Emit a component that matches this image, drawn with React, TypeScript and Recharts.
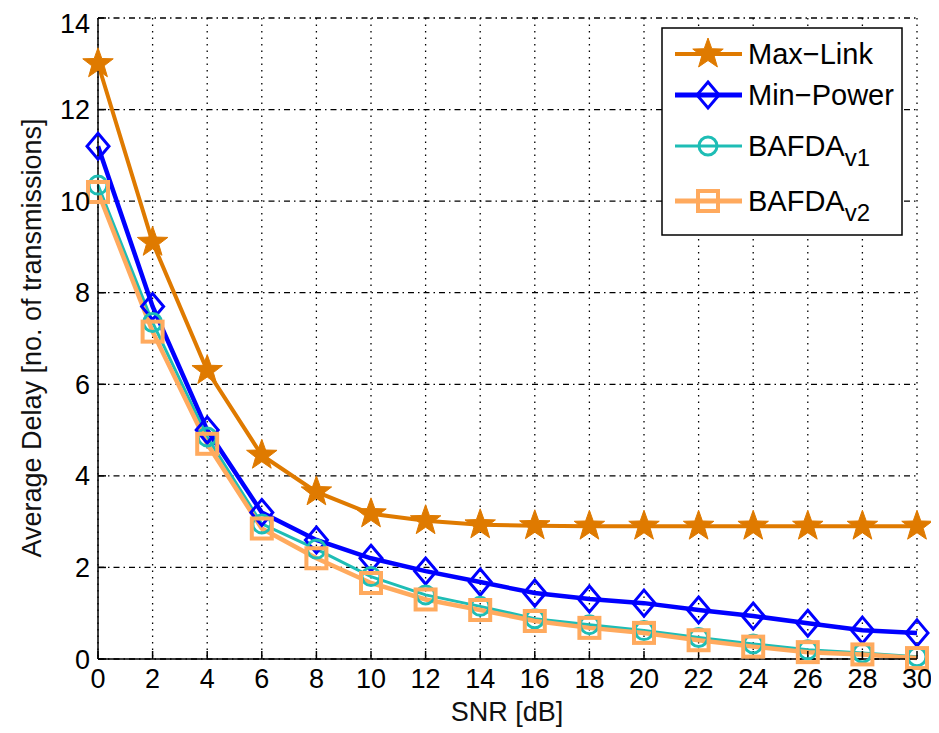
import { LineChart, Line, XAxis, YAxis, CartesianGrid } from 'recharts'

const snr = [0, 2, 4, 6, 8, 10, 12, 14, 16, 18, 20, 22, 24, 26, 28, 30]
const maxLink = [13.0, 9.1, 6.3, 4.45, 3.65, 3.17, 3.02, 2.93, 2.91, 2.9, 2.9, 2.9, 2.9, 2.9, 2.9, 2.9]
const minPower = [11.2, 7.7, 5.0, 3.2, 2.6, 2.2, 1.92, 1.68, 1.44, 1.31, 1.22, 1.07, 0.94, 0.78, 0.63, 0.57]
const bafdaV1 = [10.35, 7.35, 4.85, 2.95, 2.4, 1.8, 1.4, 1.15, 0.88, 0.75, 0.62, 0.47, 0.33, 0.2, 0.13, 0.05]
const bafdaV2 = [10.2, 7.15, 4.7, 2.85, 2.2, 1.66, 1.3, 1.07, 0.83, 0.68, 0.57, 0.41, 0.27, 0.15, 0.1, 0.02]
const xTicks = [0, 2, 4, 6, 8, 10, 12, 14, 16, 18, 20, 22, 24, 26, 28, 30]
const yTicks = [0, 2, 4, 6, 8, 10, 12, 14]

const data = snr.map((x, i) => ({
  snr: x,
  maxLink: maxLink[i],
  minPower: minPower[i],
  v1: bafdaV1[i],
  v2: bafdaV2[i],
}))

const C_MAX = '#DF7A00'
const C_MIN = '#0000FF'
const C_V1 = '#1EBDB5'
const C_V2 = '#FFAA5E'
const FONT = '"Liberation Sans", Arial, sans-serif'

const starPath = (cx: number, cy: number, ro: number, ri: number) => {
  let d = ''
  for (let k = 0; k < 10; k++) {
    const r = k % 2 === 0 ? ro : ri
    const a = -Math.PI / 2 + (k * Math.PI) / 5
    d += (k === 0 ? 'M' : 'L') + (cx + r * Math.cos(a)).toFixed(2) + ',' + (cy + r * Math.sin(a)).toFixed(2)
  }
  return d + 'Z'
}

const Star = (cx: number, cy: number, key?: any) => (
  <path key={key} d={starPath(cx, cy, 16, 6.5)} fill={C_MAX} stroke={C_MAX} strokeWidth={1} />
)
const Diamond = (cx: number, cy: number, key?: any) => (
  <path key={key} d={`M${cx},${cy - 13}L${cx + 11},${cy}L${cx},${cy + 13}L${cx - 11},${cy}Z`} fill="none" stroke={C_MIN} strokeWidth={3} />
)
const Circ = (cx: number, cy: number, key?: any) => (
  <circle key={key} cx={cx} cy={cy} r={9} fill="none" stroke={C_V1} strokeWidth={3} />
)
const Sq = (cx: number, cy: number, key?: any) => (
  <rect key={key} x={cx - 10} y={cy - 10} width={20} height={20} fill="none" stroke={C_V2} strokeWidth={4} />
)

const YLabel = () => (
  <text x={24} y={330} transform="rotate(-90 24 330)" textAnchor="middle" dominantBaseline="central" fontSize={27} fontFamily={FONT} fill="#111">
    Average Delay [no. of transmissions]
  </text>
)

const XLabel = () => (
  <text x={499} y={704} textAnchor="middle" dominantBaseline="central" fontSize={27} fontFamily={FONT} fill="#111">
    SNR [dB]
  </text>
)

const legendRows = [
  { name: 'Max−Link', sub: '', color: C_MAX, width: 4, mark: Star, y: 27 },
  { name: 'Min−Power', sub: '', color: C_MIN, width: 5, mark: Diamond, y: 68 },
  { name: 'BAFDA', sub: 'v1', color: C_V1, width: 3, mark: Circ, y: 119 },
  { name: 'BAFDA', sub: 'v2', color: C_V2, width: 5, mark: Sq, y: 174 },
]

function LegendBox() {
  return (
    <svg width={242} height={209} style={{ position: 'absolute', left: 653, top: 19 }}>
      <rect x={1} y={1} width={240} height={207} fill="#fff" stroke="#000" strokeWidth={1.5} />
      {legendRows.map((r, i) => (
        <g key={i}>
          <line x1={14} x2={81} y1={r.y} y2={r.y} stroke={r.color} strokeWidth={r.width} />
          {r.mark(47, r.y)}
          <text x={87} y={r.y + 10} fontSize={29} fontFamily={FONT} fill="#000">
            {r.name}
            {r.sub && (
              <tspan fontSize={24} dy={10}>
                {r.sub}
              </tspan>
            )}
          </text>
        </g>
      ))}
    </svg>
  )
}

const tickStyle = { fontSize: 27, fill: '#000', fontFamily: FONT }

export default function App() {
  return (
    <div style={{ position: 'relative', width: 923, height: 725 }}>
      <LineChart width={923} height={725} data={data} margin={{ top: 10, right: 14, left: 20, bottom: 8 }}>
        <CartesianGrid horizontal={false} stroke="#000" strokeWidth={1.3} strokeDasharray="1.5 5" />
        <CartesianGrid vertical={false} stroke="#000" strokeWidth={1.3} strokeDasharray="6 4 1.5 4" />
        <XAxis
          dataKey="snr"
          type="number"
          domain={[0, 30]}
          ticks={xTicks}
          height={66}
          tickSize={-8}
          tickMargin={18}
          tick={tickStyle}
          stroke="#000"
          strokeWidth={1.5}
          label={<XLabel />}
        />
        <XAxis
          xAxisId="top"
          orientation="top"
          dataKey="snr"
          type="number"
          domain={[0, 30]}
          ticks={xTicks}
          height={0}
          tickSize={-8}
          tickFormatter={() => ''}
          stroke="#000"
          strokeWidth={1.5}
        />
        <YAxis
          type="number"
          domain={[0, 14]}
          ticks={yTicks}
          width={70}
          tickSize={-8}
          tickMargin={16}
          tick={tickStyle}
          stroke="#000"
          strokeWidth={1.5}
          label={<YLabel />}
        />
        <YAxis
          yAxisId="right"
          orientation="right"
          type="number"
          domain={[0, 14]}
          ticks={yTicks}
          width={0}
          tickSize={-8}
          tickFormatter={() => ''}
          stroke="#000"
          strokeWidth={1.5}
        />
        <Line dataKey="maxLink" stroke={C_MAX} strokeWidth={4} isAnimationActive={false}
          dot={(p: any) => Star(p.cx, p.cy, p.index)} />
        <Line dataKey="minPower" stroke={C_MIN} strokeWidth={4.5} isAnimationActive={false}
          dot={(p: any) => Diamond(p.cx, p.cy, p.index)} />
        <Line dataKey="v1" stroke={C_V1} strokeWidth={3} isAnimationActive={false}
          dot={(p: any) => Circ(p.cx, p.cy, p.index)} />
        <Line dataKey="v2" stroke={C_V2} strokeWidth={4.5} isAnimationActive={false}
          dot={(p: any) => Sq(p.cx, p.cy, p.index)} />
      </LineChart>
      <LegendBox />
    </div>
  )
}
